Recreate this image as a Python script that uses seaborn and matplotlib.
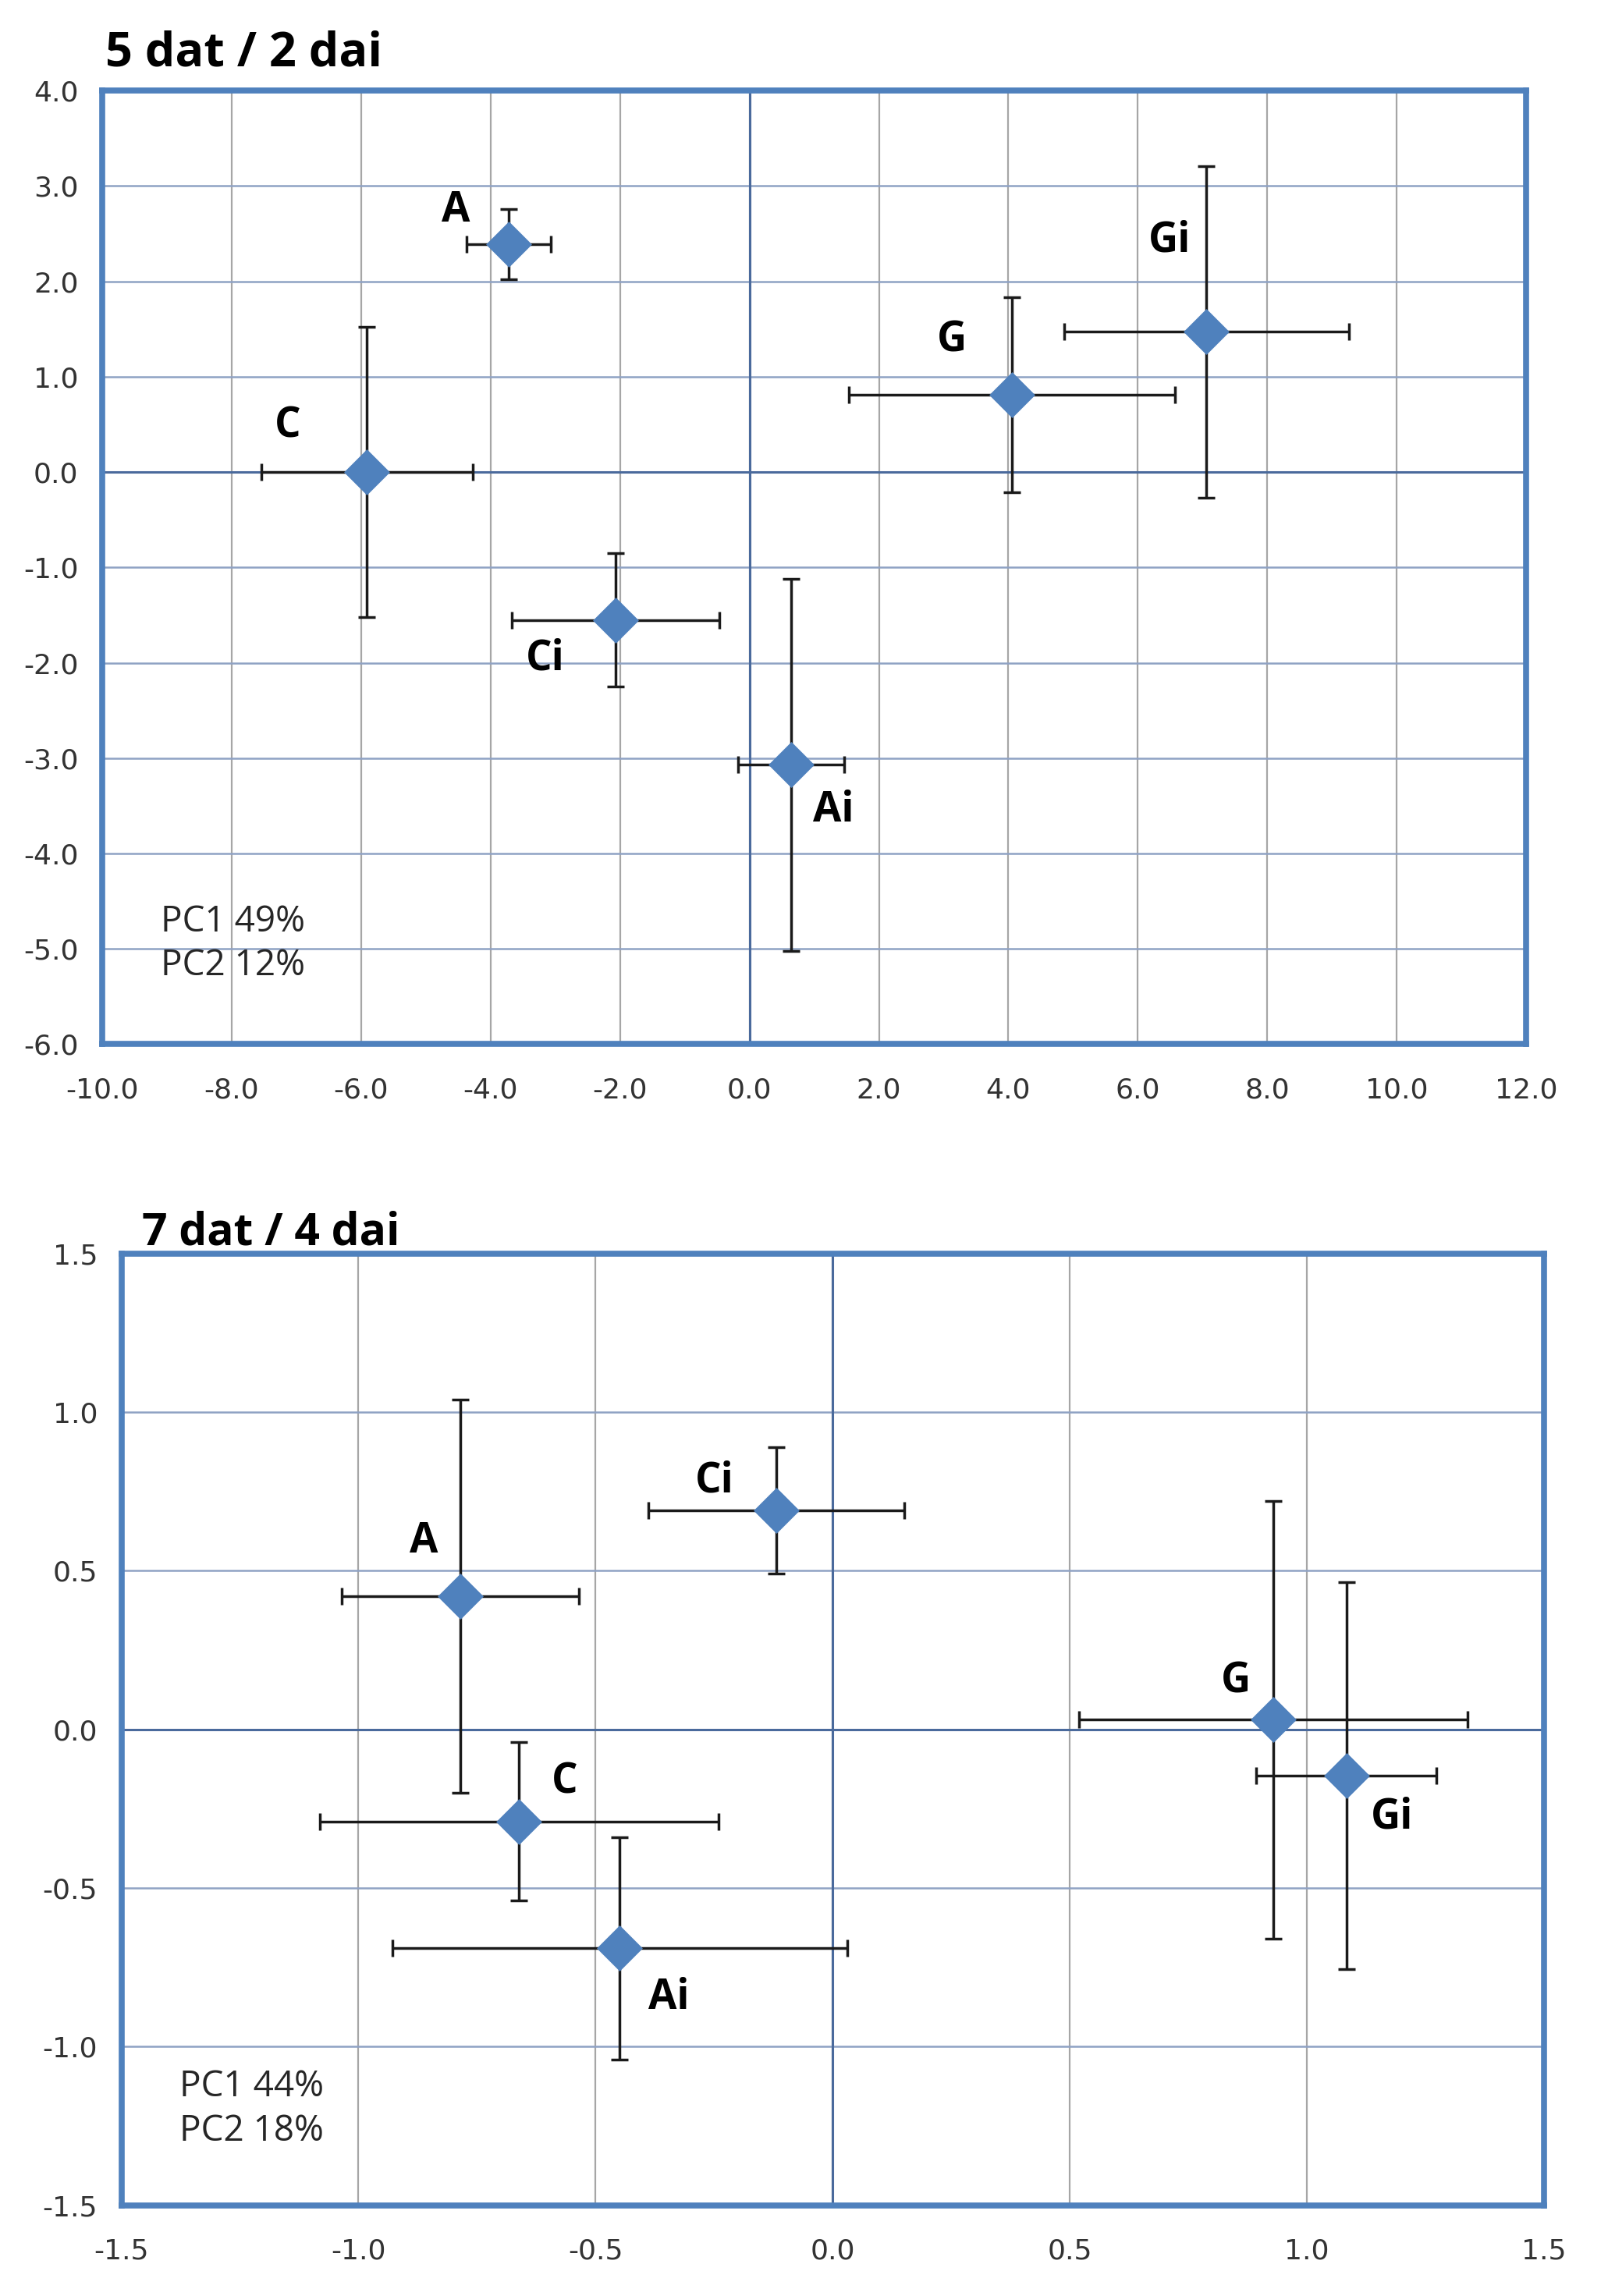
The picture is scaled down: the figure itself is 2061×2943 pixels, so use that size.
import numpy as np
import pandas as pd
import seaborn as sns
import matplotlib.pyplot as plt

# 处理组名称
groups = ["A", "C", "Ci", "Ai", "G", "Gi"]

# 5 dat / 2 dai
pc1_5dat = [-3.72, -5.91, -2.07, 0.64, 4.05, 7.06]
pc2_5dat = [2.39, 0.0, -1.55, -3.07, 0.81, 1.47]
pc1_err_5dat = [0.65, 1.63, 1.60, 0.82, 2.52, 2.20]
pc2_err_5dat = [0.37, 1.52, 0.70, 1.95, 1.02, 1.74]

# 7 dat / 4 dai
groups_7dat = ["A", "Ci", "C", "Ai", "G", "Gi"]
pc1_7dat = [-0.785, -0.119, -0.661, -0.449, 0.93, 1.084]
pc2_7dat = [0.42, 0.69, -0.29, -0.69, 0.03, -0.145]
pc1_err_7dat = [0.25, 0.27, 0.42, 0.48, 0.41, 0.19]
pc2_err_7dat = [0.62, 0.20, 0.25, 0.35, 0.69, 0.61]

# 标签偏移（points）
offsets_5dat = [(-49, 31), (-73, 42), (-65, -36), (39, -42), (-55, 50), (-34, 84)]
offsets_7dat = [(-34, 50), (-57, 27), (42, 36), (45, -46), (-35, 35), (42, -39)]

blue = "#4F81BD"
sns.set_theme(style="white")
plt.rcParams['font.family'] = ['DejaVu Sans']

fig = plt.figure(figsize=(20.61, 29.43), dpi=100)
ax1 = fig.add_axes([0.0636, 0.5452, 0.8855, 0.4153])
ax2 = fig.add_axes([0.0755, 0.0395, 0.8845, 0.4146])


def draw_panel(ax, names, xs, ys, xerr, yerr, offsets, xlim, ylim, xstep, ystep,
               title, title_size, pc_text, tick_font, title_pos, pc_pos):
    df = pd.DataFrame({"group": names, "PC1": xs, "PC2": ys})
    ax.set_xlim(*xlim)
    ax.set_ylim(*ylim)
    xt = np.arange(xlim[0], xlim[1] + xstep / 2, xstep)
    yt = np.arange(ylim[0], ylim[1] + ystep / 2, ystep)
    for v in xt:
        ax.axvline(v, color="#A6A6A6", lw=1.6, zorder=0)
    for v in yt:
        ax.axhline(v, color="#8FA2C4", lw=1.8, zorder=0)
    ax.axvline(0, color="#4A6A9C", lw=2.2, zorder=1)
    ax.axhline(0, color="#4A6A9C", lw=2.2, zorder=1)

    ax.errorbar(df["PC1"], df["PC2"], xerr=xerr, yerr=yerr, fmt="none",
                ecolor="#1A1A1A", elinewidth=2.5, capsize=8, capthick=2.5, zorder=2)
    sns.scatterplot(data=df, x="PC1", y="PC2", ax=ax, marker="D", s=900,
                    color=blue, edgecolor=blue, linewidth=0, zorder=3)

    for name, x, y, off in zip(names, xs, ys, offsets):
        ax.annotate(name, (x, y), xytext=off, textcoords="offset points",
                    ha="center", va="center", fontsize=38, fontweight="bold",
                    family=["Open Sans", "DejaVu Sans"], color="black")

    ax.set_xticks(xt)
    ax.set_yticks(yt)
    ax.set_xticklabels([f"{v:.1f}" for v in xt], family=tick_font)
    ax.set_yticklabels([f"{v:.1f}" for v in yt], family=tick_font)
    ax.tick_params(axis="both", length=0, labelsize=26, labelcolor="#333333")
    ax.tick_params(axis="x", pad=30)
    ax.tick_params(axis="y", pad=22)
    ax.set_xlabel("")
    ax.set_ylabel("")
    ax.grid(False)
    for sp in ax.spines.values():
        sp.set_color(blue)
        sp.set_linewidth(5.5)
        sp.set_visible(True)

    ax.text(title_pos[0], title_pos[1], title, transform=ax.transAxes,
            fontsize=title_size, fontweight="bold", family=["Open Sans", "DejaVu Sans"],
            ha="left", va="baseline", color="black")
    ax.text(pc_pos[0], pc_pos[1], pc_text, transform=ax.transAxes,
            fontsize=33, family=["Open Sans", "DejaVu Sans"], color="#262626",
            ha="left", va="center", linespacing=1.3)


draw_panel(ax1, groups, pc1_5dat, pc2_5dat, pc1_err_5dat, pc2_err_5dat, offsets_5dat,
           (-10, 12), (-6, 4), 2.0, 1.0, "5 dat / 2 dai", 44, "PC1 49%\nPC2 12%",
           ["Liberation Sans Narrow", "DejaVu Sans"], (0.002, 1.026), (0.041, 0.105))
draw_panel(ax2, groups_7dat, pc1_7dat, pc2_7dat, pc1_err_7dat, pc2_err_7dat, offsets_7dat,
           (-1.5, 1.5), (-1.5, 1.5), 0.5, 0.5, "7 dat / 4 dai", 41, "PC1 44%\nPC2 18%",
           ["DejaVu Sans"], (0.0144, 1.009), (0.041, 0.101))

fig.savefig("out.png", dpi=100, facecolor="white")
